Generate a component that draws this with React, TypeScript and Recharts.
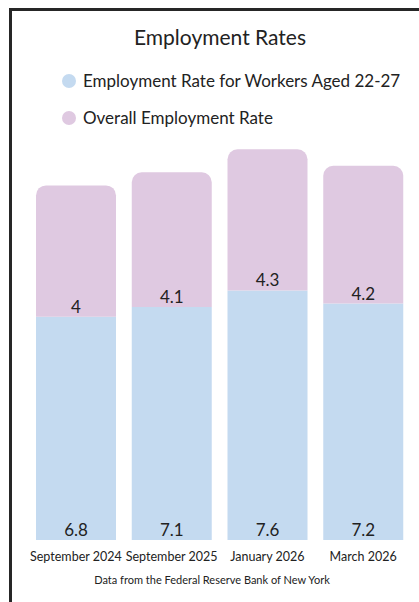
import { BarChart, Bar, XAxis, YAxis, LabelList } from 'recharts';

const periods = ['September 2024', 'September 2025', 'January 2026', 'March 2026'];
const youngWorkers = [6.8, 7.1, 7.6, 7.2];
const overall = [4, 4.1, 4.3, 4.2];

const seriesNames = ['Employment Rate for Workers Aged 22-27', 'Overall Employment Rate'];
const seriesColors = ['#c4daf0', '#dfc9e1'];

const data = periods.map((period, i) => ({
  period,
  young: youngWorkers[i],
  overall: overall[i],
}));

const FONT = 'Lato, "Noto Sans", sans-serif';
const TEXT = '#222222';

function LegendBlock() {
  return (
    <div
      style={{
        position: 'absolute',
        top: 62,
        left: 62,
        fontFamily: FONT,
        color: TEXT,
      }}
    >
      {seriesNames.map((name, i) => (
        <div
          key={name}
          style={{ display: 'flex', alignItems: 'center', height: 37, fontSize: 17 }}
        >
          <span
            style={{
              display: 'inline-block',
              width: 14,
              height: 14,
              borderRadius: 7,
              background: seriesColors[i],
              marginRight: 7,
            }}
          />
          {name}
        </div>
      ))}
    </div>
  );
}

export default function App() {
  return (
    <div
      style={{
        position: 'absolute',
        left: 0,
        top: 0,
        width: 419,
        height: 602,
        background: '#fff',
        overflow: 'hidden',
      }}
    >
      {/* frame */}
      <div
        style={{
          position: 'absolute',
          left: 9,
          top: 8,
          width: 430,
          height: 620,
          border: '3px solid #262626',
        }}
      />
      <div
        style={{
          position: 'absolute',
          top: 24,
          left: 10,
          width: 420,
          textAlign: 'center',
          fontFamily: FONT,
          fontSize: 21,
          color: TEXT,
        }}
      >
        Employment Rates
      </div>
      <LegendBlock />
      <BarChart
        width={419}
        height={602}
        data={data}
        margin={{ top: 146, right: 8, bottom: 32, left: 28 }}
        style={{ position: 'absolute', left: 0, top: 0 }}
      >
        <XAxis
          dataKey="period"
          axisLine={false}
          tickLine={false}
          tickMargin={6}
          interval={0}
          tick={{ fontSize: 12.5, fill: TEXT, fontFamily: FONT }}
        />
        <YAxis hide domain={[0, 12]} />
        <Bar
          dataKey="young"
          name={seriesNames[0]}
          stackId="a"
          fill={seriesColors[0]}
          barSize={80}
          isAnimationActive={false}
        >
          <LabelList
            dataKey="young"
            position="insideBottom"
            offset={4}
            style={{ fontSize: 17, fill: TEXT, fontFamily: FONT }}
          />
        </Bar>
        <Bar
          dataKey="overall"
          name={seriesNames[1]}
          stackId="a"
          fill={seriesColors[1]}
          barSize={80}
          radius={[10, 10, 0, 0]}
          isAnimationActive={false}
        >
          <LabelList
            dataKey="overall"
            position="insideBottom"
            offset={4}
            style={{ fontSize: 17, fill: TEXT, fontFamily: FONT }}
          />
        </Bar>
      </BarChart>
      <div
        style={{
          position: 'absolute',
          top: 573,
          left: 0,
          width: 424,
          textAlign: 'center',
          fontFamily: FONT,
          fontSize: 11,
          color: TEXT,
        }}
      >
        Data from the Federal Reserve Bank of New York
      </div>
    </div>
  );
}
